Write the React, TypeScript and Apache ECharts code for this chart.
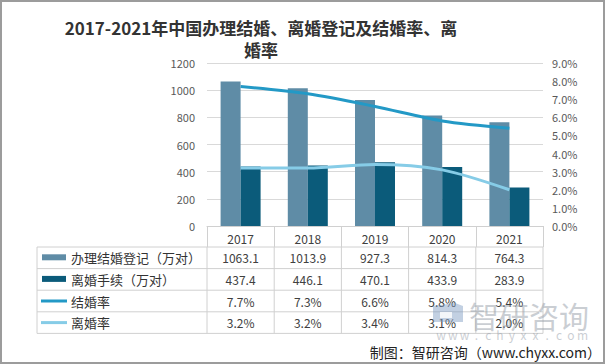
import React, { useEffect, useRef } from "react";
import * as echarts from "echarts";

const years = ["2017", "2018", "2019", "2020", "2021"];
const marriageReg = [1063.1, 1013.9, 927.3, 814.3, 764.3];
const divorceReg = [437.4, 446.1, 470.1, 433.9, 283.9];
const marriageRate = [7.7, 7.3, 6.6, 5.8, 5.4];
const divorceRate = [3.2, 3.2, 3.4, 3.1, 2.0];
const seriesNames = ["办理结婚登记（万对）", "离婚手续（万对）", "结婚率", "离婚率"];
const titleText = "2017-2021年中国办理结婚、离婚登记及结婚率、离\n婚率";
const footerText = "制图：智研咨询（www.chyxx.com）";
const watermarkText = "智研咨询";
const watermarkUrl = "www.chyxx.com";

const COLORS = ["#5F8CA6", "#0B5B7A", "#2399C6", "#86CCE7"];
const FONT = "'Noto Sans CJK SC', 'Noto Sans', sans-serif";

export default function App() {
  const ref = useRef<HTMLDivElement>(null);
  useEffect(() => {
    if (!ref.current) return;
    const chart = echarts.init(ref.current, undefined, { renderer: "svg" });
    const option: any = {
      animation: false,
      backgroundColor: "#ffffff",
      textStyle: { fontFamily: FONT },
      grid: { left: 207, right: 62, top: 63, bottom: 138 },
      xAxis: {
        type: "category",
        data: years,
        axisLine: { lineStyle: { color: "#d0d0d0" } },
        axisTick: { show: true, length: 21, lineStyle: { color: "#d0d0d0" } },
        axisLabel: { color: "#404040", fontSize: 12, margin: 6 },
      },
      yAxis: [
        {
          type: "value",
          min: 0,
          max: 1200,
          interval: 200,
          axisLine: { show: false },
          axisTick: { show: false },
          axisLabel: {
            color: "#595959",
            fontSize: 11,
            margin: 12,
            formatter: (v: number) => String(v),
          },
          splitLine: { lineStyle: { color: "#d9d9d9" } },
        },
        {
          type: "value",
          min: 0,
          max: 9,
          interval: 1,
          axisLine: { show: false },
          axisTick: { show: false },
          axisLabel: {
            color: "#595959",
            fontSize: 11,
            margin: 9,
            formatter: (v: number) => v.toFixed(1) + "%",
          },
          splitLine: { show: false },
        },
      ],
      series: [
        {
          name: seriesNames[0],
          type: "bar",
          data: marriageReg,
          barWidth: 20,
          barGap: "0%",
          itemStyle: { color: COLORS[0] },
        },
        {
          name: seriesNames[1],
          type: "bar",
          data: divorceReg,
          barWidth: 20,
          barGap: "0%",
          itemStyle: { color: COLORS[1] },
        },
        {
          name: seriesNames[2],
          type: "line",
          yAxisIndex: 1,
          data: marriageRate,
          smooth: 0.3,
          symbol: "none",
          z: 5,
          lineStyle: { color: COLORS[2], width: 3 },
        },
        {
          name: seriesNames[3],
          type: "line",
          yAxisIndex: 1,
          data: divorceRate,
          smooth: 0.3,
          symbol: "none",
          z: 5,
          lineStyle: { color: COLORS[3], width: 3 },
        },
      ],
    };
    chart.setOption(option);

    const c0 = chart.convertToPixel({ xAxisIndex: 0 }, years[0]) as number;
    const c1 = chart.convertToPixel({ xAxisIndex: 0 }, years[1]) as number;
    const band = c1 - c0;
    const gl = c0 - band / 2;
    const gr = gl + band * years.length;
    const axisY = chart.convertToPixel({ yAxisIndex: 0 }, 0) as number;
    const headH = 21;
    const rowH = 21.6;
    const tableLeft = 37;
    const rowsTop = axisY + headH;
    const lineColor = "#d0d0d0";

    const rows = [
      { vals: marriageReg.map((v) => v.toFixed(1)), kind: "bar" },
      { vals: divorceReg.map((v) => v.toFixed(1)), kind: "bar" },
      { vals: marriageRate.map((v) => v.toFixed(1) + "%"), kind: "line" },
      { vals: divorceRate.map((v) => v.toFixed(1) + "%"), kind: "line" },
    ];

    const g: any[] = [];
    for (let r = 0; r <= rows.length; r++) {
      const y = rowsTop + r * rowH;
      g.push({
        type: "line",
        shape: { x1: tableLeft, y1: y, x2: gr, y2: y },
        style: { stroke: lineColor, lineWidth: 1 },
      });
    }
    const vxs = [tableLeft];
    for (let i = 0; i <= years.length; i++) vxs.push(gl + i * band);
    vxs.forEach((x) => {
      g.push({
        type: "line",
        shape: { x1: x, y1: rowsTop, x2: x, y2: rowsTop + rows.length * rowH },
        style: { stroke: lineColor, lineWidth: 1 },
      });
    });
    rows.forEach((row, r) => {
      const cy = rowsTop + r * rowH + rowH / 2;
      if (row.kind === "bar") {
        g.push({
          type: "rect",
          shape: { x: 42, y: cy - 3.5, width: 24, height: 6 },
          style: { fill: COLORS[r] },
        });
      } else {
        g.push({
          type: "line",
          shape: { x1: 41, y1: cy, x2: 67, y2: cy },
          style: { stroke: COLORS[r], lineWidth: 3 },
        });
      }
      g.push({
        type: "text",
        x: 71,
        y: cy,
        style: {
          text: seriesNames[r],
          font: `13px ${FONT}`,
          fill: "#333333",
          textVerticalAlign: "middle",
          textAlign: "left",
        },
      });
      row.vals.forEach((t, i) => {
        const cx = chart.convertToPixel({ xAxisIndex: 0 }, years[i]) as number;
        g.push({
          type: "text",
          x: cx,
          y: cy,
          style: {
            text: t,
            font: `12px ${FONT}`,
            fill: "#404040",
            textAlign: "center",
            textVerticalAlign: "middle",
          },
        });
      });
    });
    g.push({
      type: "text",
      x: 261,
      y: 16,
      style: {
        text: titleText,
        font: `bold 17px ${FONT}`,
        fill: "#333333",
        textAlign: "center",
        lineHeight: 22,
      },
    });
    // watermark
    g.push({
      type: "polygon",
      shape: { points: [[433, 306], [455, 303], [463, 306], [463, 322], [433, 322]] },
      style: { fill: "rgba(120,150,190,0.45)" },
    });
    g.push({
      type: "polygon",
      shape: { points: [[440, 312], [452, 312], [452, 318], [440, 318]] },
      style: { fill: "rgba(255,255,255,0.8)" },
    });
    g.push({
      type: "text",
      x: 469,
      y: 315,
      style: {
        text: watermarkText,
        font: `30px ${FONT}`,
        fill: "rgba(150,158,168,0.5)",
        textVerticalAlign: "middle",
      },
    });
    watermarkUrl.split("").forEach((ch, i) => {
      g.push({
        type: "text",
        x: 441 + i * 11.8,
        y: 334,
        style: {
          text: ch,
          font: `12px ${FONT}`,
          fill: "rgba(150,158,168,0.5)",
          textAlign: "center",
          textVerticalAlign: "middle",
        },
      });
    });
    g.push({
      type: "text",
      x: 601,
      y: 352,
      style: {
        text: footerText,
        font: `14px ${FONT}`,
        fill: "#222222",
        textAlign: "right",
        textVerticalAlign: "middle",
      },
    });
    g.push({
      type: "rect",
      shape: { x: 1, y: 1, width: 603, height: 362 },
      style: { fill: "none", stroke: "#9c9c9c", lineWidth: 2 },
      z: 100,
    });
    chart.setOption({ graphic: g });

    return () => chart.dispose();
  }, []);
  return (
    <div
      ref={ref}
      style={{ position: "absolute", left: 0, top: 0, width: 605, height: 364, background: "#fff" }}
    />
  );
}
